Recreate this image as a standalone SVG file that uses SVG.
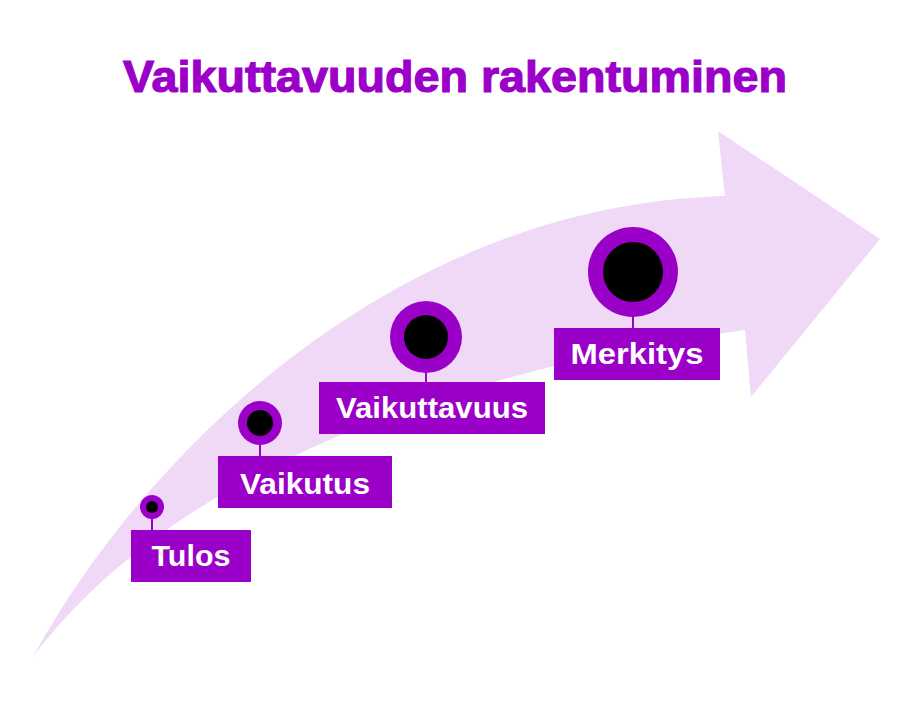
<svg xmlns="http://www.w3.org/2000/svg" width="912" height="723" viewBox="0 0 912 723">
<style>
.title{font-family:"Liberation Sans",Arial,sans-serif;font-weight:bold;font-size:45px;fill:#9b00c8;stroke:#9b00c8;stroke-width:1.2px}
.box{fill:#9b00c8}
.lbl{font-family:"Liberation Sans",Arial,sans-serif;font-weight:bold;font-size:30px;fill:#ffffff;text-anchor:middle}
.ring{fill:#9b00c8}
.dot{fill:#000000}
.stem{stroke:#9b00c8;stroke-width:2}
</style>
<rect width="912" height="723" fill="#ffffff"/>
<text class="title" x="123" y="92" textLength="664" lengthAdjust="spacingAndGlyphs">Vaikuttavuuden rakentuminen</text>
<g id="arrow">
<path d="M33,657 C140,460 390,205 725,196 L718,131 L880,239 L751,397 L745,330 C390,380 150,500 33,657 Z" fill="#f0d9f6"/>
</g>
<g id="connectors">
<line class="stem" x1="152" y1="515" x2="152" y2="531"/>
<line class="stem" x1="260" y1="440" x2="260" y2="457"/>
<line class="stem" x1="426" y1="365" x2="426" y2="383"/>
<line class="stem" x1="633" y1="310" x2="633" y2="329"/>
</g>
<g id="tulos">
<circle class="ring" cx="152" cy="507" r="12"/>
<circle class="dot" cx="152" cy="507" r="6"/>
<rect class="box" x="131" y="530" width="120" height="52"/>
<text class="lbl" x="191" y="566" textLength="79" lengthAdjust="spacingAndGlyphs">Tulos</text>
</g>
<g id="vaikutus">
<circle class="ring" cx="260" cy="423" r="22"/>
<circle class="dot" cx="260" cy="423" r="13"/>
<rect class="box" x="218" y="456" width="174" height="52"/>
<text class="lbl" x="305" y="494" textLength="130" lengthAdjust="spacingAndGlyphs">Vaikutus</text>
</g>
<g id="vaikuttavuus">
<circle class="ring" cx="426" cy="337" r="36"/>
<circle class="dot" cx="426" cy="337" r="22"/>
<rect class="box" x="319" y="382" width="226" height="52"/>
<text class="lbl" x="432" y="418" textLength="192" lengthAdjust="spacingAndGlyphs">Vaikuttavuus</text>
</g>
<g id="merkitys">
<circle class="ring" cx="633" cy="272" r="45"/>
<circle class="dot" cx="633" cy="272" r="30"/>
<rect class="box" x="554" y="328" width="166" height="52"/>
<text class="lbl" x="637" y="364" textLength="133" lengthAdjust="spacingAndGlyphs">Merkitys</text>
</g>
</svg>
